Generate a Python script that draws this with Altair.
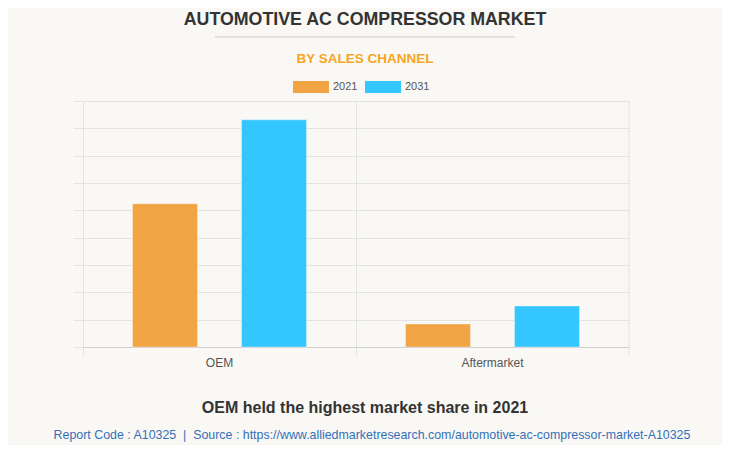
import altair as alt
import pandas as pd

channels = ["OEM", "OEM", "Aftermarket", "Aftermarket"]
years = ["2021", "2031", "2021", "2031"]
values = [5.24, 8.31, 0.84, 1.50]
category_order = ["OEM", "Aftermarket"]
year_order = ["2021", "2031"]
colors = ["#f0a443", "#33c6ff"]

title_text = "AUTOMOTIVE AC COMPRESSOR MARKET"
subtitle_text = "BY SALES CHANNEL"
caption_text = "OEM held the highest market share in 2021"
footer_text = "Report Code : A10325\u00a0\u00a0|\u00a0\u00a0Source : https://www.alliedmarketresearch.com/automotive-ac-compressor-market-A10325"

df = pd.DataFrame({"channel": channels, "year": years, "value": values})

W, H = 546, 246
FONT = "Liberation Sans"

bars = alt.Chart(df).mark_bar(stroke="white", strokeWidth=0.6, strokeOpacity=0.6).encode(
    x=alt.X("channel:N", sort=category_order, title=None,
            scale=alt.Scale(paddingInner=0, paddingOuter=0),
            axis=alt.Axis(bandPosition=0, grid=True, gridColor="#e3e3e3",
                          tickColor="#e3e3e3", tickSize=8, domainColor="#d0d0d0",
                          labelColor="#555555", labelFontSize=12, labelFont=FONT,
                          labelPadding=2, labelAngle=0)),
    xOffset=alt.XOffset("year:N", sort=year_order,
                        scale=alt.Scale(paddingInner=0.404, paddingOuter=0.454)),
    y=alt.Y("value:Q", title=None, scale=alt.Scale(domain=[0, 9], nice=False),
            axis=alt.Axis(values=list(range(10)), labels=False, tickSize=10,
                          tickColor="#e3e3e3", gridColor="#e3e3e3", domain=False)),
    color=alt.Color("year:N", sort=year_order, title=None,
                    scale=alt.Scale(domain=year_order, range=colors),
                    legend=alt.Legend(orient="none", legendX=210, legendY=-32, direction="horizontal",
                                      symbolType="M-1,-0.333H1V0.333H-1Z", symbolSize=1296,
                                      symbolStrokeWidth=0, symbolOpacity=1,
                                      labelFontSize=11, labelColor="#555555", labelFont=FONT,
                                      labelOffset=4, columnPadding=7)),
)

right_line = alt.Chart(pd.DataFrame({"a": [0]})).mark_rule(color="#e3e3e3").encode(
    x=alt.value(W), y=alt.value(0), y2=alt.value(H + 8))

def text_layer(t, x, y, size, color, weight="normal"):
    return alt.Chart(pd.DataFrame({"t": [t]})).mark_text(
        fontSize=size, color=color, fontWeight=weight, font=FONT, align="center", baseline="middle"
    ).encode(text="t:N", x=alt.value(x), y=alt.value(y))

cx = 365 - 83
title = text_layer(title_text, cx, 20 - 101, 17.8, "#333333", "bold")
rule = alt.Chart(pd.DataFrame({"a": [0]})).mark_rule(color="#cccccc").encode(
    x=alt.value(215 - 83), x2=alt.value(515 - 83), y=alt.value(37 - 101))
subtitle = text_layer(subtitle_text, cx, 59 - 101, 13.5, "#f5a623", "bold")
caption = text_layer(caption_text, cx, 408 - 101, 16, "#333333", "bold")
footer = text_layer(footer_text, cx + 7, 435 - 101, 12.4, "#3370b8")

chart = alt.layer(bars, right_line, title, rule, subtitle, caption, footer).properties(
    width=W, height=H,
    autosize=alt.AutoSizeParams(type="none"),
    padding={"left": 75, "top": 93, "right": 93, "bottom": 98},
    background="#f9f8f4",
).configure_view(stroke=None)

chart.save("out.html", embed_options={"renderer": "svg", "actions": False})
